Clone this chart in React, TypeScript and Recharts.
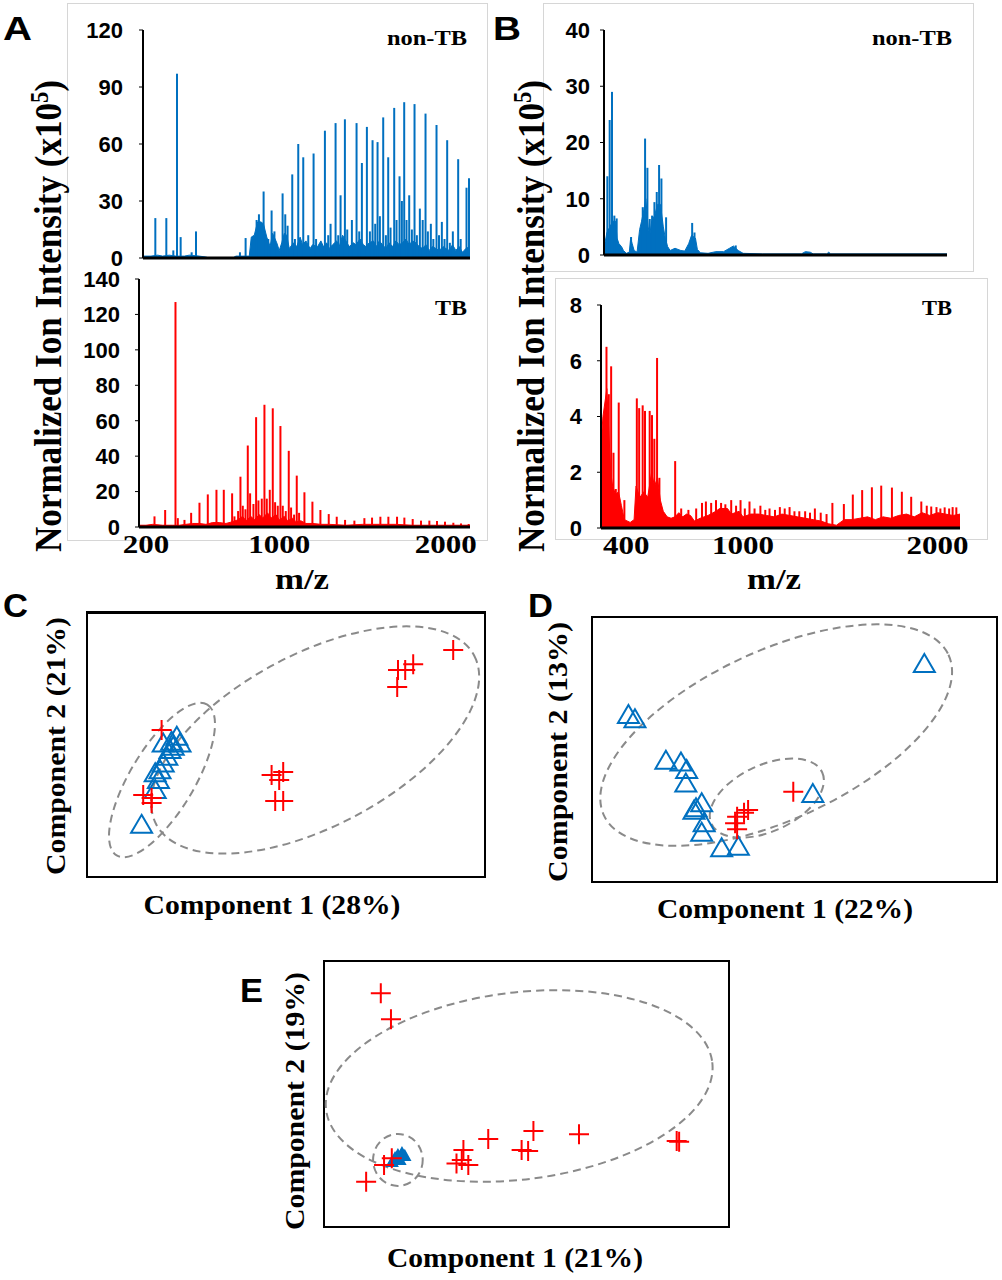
import React from "react";
import { Area, Bar, ComposedChart, ReferenceArea, Scatter, ScatterChart, XAxis, YAxis } from "recharts";

const BLUE = "#0070C0";
const RED = "#FF0000";
const GREY = "#8A8A8A";
const SERIF = "'Liberation Serif', 'Times New Roman', serif";
const SANS = "'Liberation Sans', Arial, sans-serif";

type Pt = [number, number];

// ---- panel A, m/z vs intensity (x10^5) ----
const aNonTbPeaks: Pt[] = [
  [257, 21], [323, 21], [365, 4], [387, 97], [409, 11], [475, 3], [501, 14], [765, 3], [799, 10.5],
  [865, 20], [879, 23], [907, 35], [935, 10], [955, 25], [972, 14], [1021, 34], [1037, 23], [1051, 17],
  [1079, 44], [1095, 10], [1115, 60], [1145, 53], [1175, 12], [1207, 55], [1222, 10], [1275, 67],
  [1295, 12], [1309, 18], [1339, 71], [1355, 12], [1369, 33], [1395, 73], [1409, 15], [1437, 20],
  [1465, 71], [1481, 14], [1497, 50], [1527, 69], [1545, 14], [1561, 62], [1577, 18], [1591, 61],
  [1605, 22], [1625, 74], [1641, 12], [1655, 53], [1669, 16], [1691, 79], [1705, 20], [1723, 43],
  [1737, 30], [1751, 82], [1765, 20], [1781, 33], [1797, 15], [1813, 81], [1827, 12], [1845, 26],
  [1862, 20], [1879, 76], [1893, 14], [1911, 18], [1926, 10], [1945, 70], [1960, 12], [1977, 19],
  [1993, 10], [2009, 62], [2025, 8], [2043, 14], [2075, 52], [2090, 10], [2125, 37], [2140, 42],
];
const aNonTbFloor: Pt[] = [
  [182, 1], [230, 1], [270, 1.5], [300, 1], [340, 1.5], [380, 1], [430, 1], [460, 1.5], [520, 1],
  [560, 0.5], [580, 0], [720, 0], [740, 1], [780, 1], [820, 1], [832, 11], [850, 12], [870, 19],
  [890, 19], [905, 18], [925, 11], [945, 6], [960, 13], [985, 8], [1000, 4], [1015, 8], [1030, 13],
  [1045, 12], [1060, 5], [1085, 8], [1105, 6], [1125, 11], [1140, 7], [1160, 9], [1185, 5], [1200, 7],
  [1230, 6], [1250, 9], [1265, 6], [1285, 8], [1300, 5], [1320, 7], [1345, 9], [1360, 6], [1380, 12],
  [1400, 9], [1420, 6], [1445, 8], [1460, 7], [1485, 10], [1505, 7], [1520, 6], [1540, 8], [1565, 9],
  [1585, 6], [1600, 9], [1620, 7], [1640, 5], [1660, 8], [1680, 6], [1700, 9], [1720, 7], [1740, 8],
  [1760, 10], [1780, 7], [1800, 9], [1820, 8], [1840, 6], [1860, 5], [1880, 7], [1900, 4], [1920, 6],
  [1940, 5], [1960, 4], [1985, 6], [2000, 5], [2020, 4], [2040, 7], [2060, 4], [2080, 6], [2100, 3],
  [2120, 5], [2145, 6],
];
const aTbPeaks: Pt[] = [
  [252, 6], [316, 9.6], [378, 127], [392, 5], [432, 4], [472, 8], [522, 13.7], [572, 18.4], [624, 21],
  [668, 21], [718, 19], [732, 6], [754, 9], [768, 28.4], [782, 12], [798, 10], [812, 46], [826, 19],
  [846, 13], [862, 62], [876, 15], [896, 16], [912, 69], [926, 16], [944, 21], [962, 67], [976, 14],
  [992, 12], [1008, 57], [1022, 12], [1040, 9], [1058, 43], [1072, 11], [1090, 7], [1106, 29],
  [1120, 8], [1152, 19.6], [1200, 14.3], [1248, 9.6], [1298, 7.3], [1346, 5.8], [1396, 4], [1452, 3.6],
  [1512, 5], [1558, 5.3], [1608, 5.8], [1656, 5.8], [1708, 5.8], [1752, 5.3], [1802, 4.5], [1852, 3.6],
  [1902, 3.6], [1948, 3.4], [1996, 3], [2046, 2.4], [2092, 2], [2138, 1.7],
];
const aTbFloor: Pt[] = [
  [158, 1], [200, 1], [240, 1.5], [300, 1], [360, 1], [400, 1], [440, 1.5], [480, 2], [520, 2],
  [560, 1.5], [600, 2.5], [640, 2.5], [680, 2], [720, 3], [750, 4], [780, 6], [800, 3.5], [830, 6],
  [850, 4], [880, 7], [900, 5], [930, 8], [950, 5], [980, 7], [1000, 4], [1030, 6], [1050, 3.5],
  [1080, 5], [1100, 3], [1130, 3.5], [1160, 2], [1200, 2], [1250, 1.5], [1300, 1.5], [1400, 1],
  [1500, 1.5], [1600, 1.5], [1700, 1.5], [1800, 1], [1900, 1], [2000, 1], [2145, 1],
];

// ---- panel B ----
const bNonTbPeaks: Pt[] = [
  [291, 2.3], [303, 14], [315, 24], [327, 29], [339, 7], [351, 6.5], [425, 3.2], [485, 8.5], [497, 20.7],
  [509, 15.5], [521, 6.4], [533, 7], [545, 9.4], [557, 11.2], [569, 16], [581, 13.6], [605, 6.7],
  [739, 5.7], [751, 4], [963, 1.7],
];
const bNonTbFloor: Pt[] = [
  [285, 1], [292, 2.5], [300, 4], [330, 6], [345, 6], [352, 3], [362, 2], [375, 1.5], [385, 0.8],
  [400, 0.3], [415, 0.5], [422, 3], [430, 2], [440, 0.8], [455, 0.5], [468, 4.5], [478, 6], [490, 8],
  [500, 10], [512, 5], [520, 3.5], [530, 6], [545, 7], [560, 9], [575, 9], [590, 5], [600, 3],
  [612, 1.5], [625, 0.8], [650, 1.2], [680, 0.8], [700, 0.7], [720, 2], [735, 3.5], [755, 3], [765, 1],
  [780, 0.4], [820, 0.3], [860, 0.6], [900, 0.6], [930, 1.2], [950, 1.6], [975, 0.8], [1000, 0.3],
  [1100, 0.2], [1300, 0.2], [1320, 0.6], [1345, 0.5], [1360, 0.2], [1430, 0.2], [1440, 0.5],
  [1450, 0.2], [2048, 0.2],
];
const bTbPeaks: Pt[] = [
  [287, 1.2], [299, 6.5], [311, 4.8], [323, 5.8], [335, 2.7], [347, 1.4], [362, 4.5], [391, 1],
  [455, 4.65], [467, 4.3], [485, 4.4], [497, 4.2], [521, 4.2], [533, 4.05], [545, 3.2], [559, 6.1],
  [571, 1.8], [652, 2.4], [683, 0.7], [720, 0.65], [760, 0.7], [790, 0.9], [810, 0.95], [837, 0.9],
  [862, 1], [888, 0.9], [910, 0.85], [940, 1], [965, 0.8], [988, 1], [1010, 0.7], [1034, 0.95],
  [1060, 0.7], [1090, 0.8], [1115, 0.65], [1137, 0.7], [1165, 0.65], [1190, 0.75], [1215, 0.7],
  [1240, 0.75], [1265, 0.6], [1290, 0.6], [1320, 0.6], [1345, 0.55], [1370, 0.7], [1400, 0.55],
  [1430, 0.5], [1460, 0.9], [1519, 0.86], [1565, 1.2], [1613, 1.36], [1663, 1.46], [1711, 1.52],
  [1766, 1.45], [1817, 1.3], [1865, 1.12], [1917, 0.95], [1945, 0.8], [1968, 0.77], [1995, 0.75],
  [2015, 0.7], [2037, 0.74], [2060, 0.7], [2078, 0.75], [2097, 0.74],
];
const bTbFloor: Pt[] = [
  [270, 3], [280, 4], [300, 5], [310, 3.5], [320, 2], [330, 1.5], [345, 1.2], [360, 1.3], [375, 0.8],
  [390, 0.3], [420, 0.2], [440, 0.3], [450, 1.5], [470, 1.1], [490, 1.3], [510, 1.1], [530, 2],
  [545, 1.5], [560, 1.8], [575, 1], [590, 0.6], [610, 0.4], [630, 0.35], [650, 0.4], [670, 0.55],
  [690, 0.4], [710, 0.5], [730, 0.45], [750, 0.25], [780, 0.35], [820, 0.45], [860, 0.6], [880, 0.7],
  [920, 0.7], [940, 0.5], [980, 0.6], [1000, 0.4], [1040, 0.5], [1080, 0.5], [1120, 0.45],
  [1160, 0.4], [1200, 0.5], [1240, 0.45], [1280, 0.4], [1320, 0.35], [1360, 0.3], [1400, 0.25],
  [1440, 0.15], [1480, 0.1], [1520, 0.3], [1560, 0.3], [1600, 0.35], [1640, 0.4], [1680, 0.3],
  [1720, 0.4], [1760, 0.35], [1800, 0.45], [1840, 0.5], [1880, 0.4], [1920, 0.55], [1960, 0.45],
  [2000, 0.55], [2040, 0.5], [2080, 0.45], [2115, 0.5],
];

// ---- PCA score plots (arbitrary units, 0-100 on both axes) ----
const cTriangles: Pt[] = [
  [13.9, 19.9], [17.3, 33.0], [18.1, 36.7], [17.3, 39.2], [18.5, 40.4], [19.3, 42.9], [20.2, 45.4],
  [21.0, 47.9], [21.8, 49.2], [23.5, 50.4], [22.7, 52.9], [19.3, 50.4], [21.4, 51.0],
];
const cPluses: Pt[] = [
  [91.8, 85.4], [81.8, 80.1], [79.8, 77.9], [78.0, 77.9], [77.8, 71.5], [46.4, 38.6], [49.3, 39.7],
  [48.3, 36.7], [47.3, 28.8], [49.3, 28.8], [18.9, 55.4], [14.3, 31.1], [16.4, 30.0], [16.4, 28.1],
];
const cEllipses = [
  { cx: 57.3, cy: 51.7, rx: 45, ry: 32.2, angle: 28 },
  { cx: 19, cy: 36.7, rx: 22, ry: 12, angle: 59 },
];

const dTriangles: Pt[] = [
  [81.9, 82.0], [9.2, 62.9], [10.8, 61.3], [18.4, 45.8], [22.1, 45.1], [23.5, 42.3], [23.3, 37.3],
  [25.8, 28.0], [27.2, 29.9], [25.3, 27.1], [27.2, 18.8], [27.8, 22.4], [32.1, 13.0], [36.2, 13.6],
  [54.5, 33.3],
];
const dPluses: Pt[] = [[49.7, 34.2], [38.6, 27.3], [37.6, 26.3], [35.9, 24.8], [35.4, 22.4], [35.9, 20.1]];
const dEllipses = [
  { cx: 45.5, cy: 55.4, rx: 46.7, ry: 31.5, angle: 25 },
  { cx: 43.2, cy: 31.8, rx: 15, ry: 12.4, angle: 25 },
];

const ePluses: Pt[] = [
  [14.2, 87.6], [16.7, 77.9], [10.6, 17.3], [15.0, 23.5], [16.9, 26.0], [32.8, 24.1], [34.5, 29.1],
  [34.1, 25.4], [35.7, 23.5], [40.6, 33.2], [48.8, 29.1], [50.4, 28.7], [51.7, 36.2], [62.9, 35.0],
  [86.9, 32.5], [87.5, 32.2],
];
const eBlob: Pt[] = [[17.7, 26.1], [18.4, 27.2], [19.4, 28.0], [20.1, 26.9], [18.9, 25.4], [17.0, 24.6]];
const eEllipses = [
  { cx: 48.2, cy: 53.0, rx: 47.8, ry: 34.9, angle: 7 },
  { cx: 18.4, cy: 25.4, rx: 6.1, ry: 9.7, angle: 0 },
];

const rows = (pts: Pt[]) => pts.map(([mz, v]) => ({ mz, v }));
const xy = (pts: Pt[]) => pts.map(([x, y]) => ({ x, y }));

const MzTick = (props: any) => {
  const { x, y, payload } = props;
  const s = String(payload.value);
  return (
    <text x={x} y={y + 26} textAnchor="middle" fontFamily={SERIF} fontWeight="bold" fontSize={25}
      textLength={s.length * 15.5} lengthAdjust="spacingAndGlyphs" fill="#000">{s}</text>
  );
};

function Spectrum({ plot, yWidth, tickGap, xDomain, yMax, yTicks, xTicks, color, peaks, floor }: any) {
  const [x0, y0, x1, y1] = plot;
  const mt = 12;
  const mr = 10;
  const axisH = xTicks ? 30 : 1;
  const mb = xTicks ? 0 : 12;
  const width = yWidth + (x1 - x0) + mr;
  const height = mt + (y1 - y0) + axisH + mb;
  return (
    <div style={{ position: "absolute", left: x0 - yWidth, top: y0 - mt }}>
      <ComposedChart width={width} height={height} data={rows(peaks)} margin={{ top: mt, right: mr, bottom: mb, left: 0 }}>
        <XAxis xAxisId="peaks" dataKey="mz" type="number" domain={xDomain} allowDataOverflow
          ticks={xTicks || []} interval={0} tick={xTicks ? <MzTick /> : false} tickLine={false}
          tickSize={0} tickMargin={0} height={axisH} axisLine={{ stroke: "#000", strokeWidth: 3 }} />
        <YAxis type="number" domain={[0, yMax]} allowDataOverflow ticks={yTicks} interval={0} width={yWidth}
          tickSize={4} tickMargin={tickGap} tickLine={{ stroke: "#000" }}
          axisLine={{ stroke: "#000", strokeWidth: 2 }}
          tick={{ fontFamily: SANS, fontWeight: "bold", fontSize: 22, fill: "#000" }} />
        <XAxis xAxisId="floor" dataKey="mz" type="number" domain={xDomain} allowDataOverflow hide height={0} />
        <Area xAxisId="floor" data={rows(floor)} dataKey="v" type="linear" stroke={color} strokeWidth={1}
          fill={color} fillOpacity={1} dot={false} activeDot={false} isAnimationActive={false} />
        <Bar xAxisId="peaks" dataKey="v" fill={color} barSize={2} isAnimationActive={false} />
      </ComposedChart>
    </div>
  );
}

const DashedEllipse = (p: any) => {
  const cx = p.x + p.width / 2;
  const cy = p.y + p.height / 2;
  return (
    <ellipse cx={cx} cy={cy} rx={Math.abs(p.width) / 2} ry={Math.abs(p.height) / 2}
      transform={`rotate(${-p.angle} ${cx} ${cy})`} fill="none" stroke={GREY} strokeWidth={2} strokeDasharray="8 5" />
  );
};

const plusShape = (p: any) => (
  <path d={`M${p.cx - 10},${p.cy}H${p.cx + 10}M${p.cx},${p.cy - 10}V${p.cy + 10}`} stroke={RED} strokeWidth={2} fill="none" />
);
const triShape = (p: any) => (
  <path d={`M${p.cx},${p.cy - 10}L${p.cx + 10.5},${p.cy + 8}L${p.cx - 10.5},${p.cy + 8}Z`} stroke={BLUE} strokeWidth={2} fill="none" />
);
const blobShape = (p: any) => (
  <path d={`M${p.cx},${p.cy - 5}L${p.cx + 5},${p.cy + 4}L${p.cx - 5},${p.cy + 4}Z`} stroke={BLUE} strokeWidth={2} fill={BLUE} />
);

function Pca({ frame, triangles, pluses, blob, ellipses, topWidth }: any) {
  const [x0, y0, x1, y1] = frame;
  const w = x1 - x0;
  const h = y1 - y0;
  return (
    <>
      <div style={{
        position: "absolute", left: x0, top: y0, width: w, height: h, boxSizing: "border-box",
        border: "2px solid #000", borderTopWidth: topWidth || 2,
      }} />
      <div style={{ position: "absolute", left: x0, top: y0 }}>
        <ScatterChart width={w} height={h} margin={{ top: 0, right: 0, bottom: 0, left: 0 }}>
          <XAxis type="number" dataKey="x" domain={[0, 100]} allowDataOverflow hide />
          <YAxis type="number" dataKey="y" domain={[0, 100]} allowDataOverflow hide />
          {ellipses.map((e: any, i: number) => (
            <ReferenceArea key={i} x1={e.cx - e.rx} x2={e.cx + e.rx} y1={e.cy - e.ry} y2={e.cy + e.ry}
              ifOverflow="visible" shape={(p: any) => <DashedEllipse {...p} angle={e.angle} />} />
          ))}
          {triangles && <Scatter data={xy(triangles)} shape={triShape} isAnimationActive={false} />}
          {blob && <Scatter data={xy(blob)} shape={blobShape} isAnimationActive={false} />}
          <Scatter data={xy(pluses)} shape={plusShape} isAnimationActive={false} />
        </ScatterChart>
      </div>
    </>
  );
}

const Box = ({ r }: { r: number[] }) => (
  <div style={{
    position: "absolute", left: r[0], top: r[1], width: r[2] - r[0], height: r[3] - r[1],
    border: "1px solid #d6d6d6", boxSizing: "border-box", background: "#fff",
  }} />
);

const bold = { fontWeight: "bold" as const, fill: "#000" };

export default function App() {
  return (
    <div style={{ position: "absolute", left: 0, top: 0, width: 1002, height: 1280, background: "#fff", overflow: "hidden" }}>
      <Box r={[67, 3, 488, 541]} />
      <Box r={[543, 3, 974, 272]} />
      <Box r={[555, 278, 988, 540]} />

      <Spectrum plot={[139, 279, 470, 527]} yWidth={60} tickGap={15} xDomain={[158, 2145]} yMax={140}
        yTicks={[0, 20, 40, 60, 80, 100, 120, 140]} xTicks={[200, 1000, 2000]} color={RED}
        peaks={aTbPeaks} floor={aTbFloor} />
      <Spectrum plot={[143, 30, 470, 258]} yWidth={60} tickGap={16} xDomain={[182, 2145]} yMax={120}
        yTicks={[0, 30, 60, 90, 120]} color={BLUE} peaks={aNonTbPeaks} floor={aNonTbFloor} />
      <Spectrum plot={[601, 305, 960, 528]} yWidth={50} tickGap={15} xDomain={[270, 2115]} yMax={8}
        yTicks={[0, 2, 4, 6, 8]} xTicks={[400, 1000, 2000]} color={RED} peaks={bTbPeaks} floor={bTbFloor} />
      <Spectrum plot={[604, 30, 947, 255]} yWidth={50} tickGap={10} xDomain={[285, 2048]} yMax={40}
        yTicks={[0, 10, 20, 30, 40]} color={BLUE} peaks={bNonTbPeaks} floor={bNonTbFloor} />

      <Pca frame={[86, 611, 486, 878]} triangles={cTriangles} pluses={cPluses} ellipses={cEllipses} topWidth={3} />
      <Pca frame={[591, 616, 998, 883]} triangles={dTriangles} pluses={dPluses} ellipses={dEllipses} />
      <Pca frame={[323, 960, 730, 1228]} blob={eBlob} pluses={ePluses} ellipses={eEllipses} />

      <svg width={1002} height={1280} style={{ position: "absolute", left: 0, top: 0, pointerEvents: "none" }}>
        <g fontFamily={SANS} fontSize={34} {...bold}>
          <text x={3} y={40} textLength={29} lengthAdjust="spacingAndGlyphs">A</text>
          <text x={493} y={40} textLength={28} lengthAdjust="spacingAndGlyphs">B</text>
          <text x={3} y={617} textLength={25} lengthAdjust="spacingAndGlyphs">C</text>
          <text x={528} y={617} textLength={25} lengthAdjust="spacingAndGlyphs">D</text>
          <text x={240} y={1002} textLength={23} lengthAdjust="spacingAndGlyphs">E</text>
        </g>
        <g fontFamily={SERIF} {...bold}>
          <text x={387} y={45} fontSize={20} textLength={80} lengthAdjust="spacingAndGlyphs">non-TB</text>
          <text x={435} y={315} fontSize={22} textLength={32} lengthAdjust="spacingAndGlyphs">TB</text>
          <text x={872} y={45} fontSize={20} textLength={80} lengthAdjust="spacingAndGlyphs">non-TB</text>
          <text x={922} y={315} fontSize={22} textLength={30} lengthAdjust="spacingAndGlyphs">TB</text>

          <text x={302} y={589} fontSize={30} textAnchor="middle" textLength={54} lengthAdjust="spacingAndGlyphs">m/z</text>
          <text x={774} y={589} fontSize={30} textAnchor="middle" textLength={54} lengthAdjust="spacingAndGlyphs">m/z</text>

          {[61, 544].map((bx) => (
            <text key={bx} transform={`translate(${bx},316) rotate(-90) scale(1,1.1)`} textAnchor="middle"
              fontSize={34} textLength={472} lengthAdjust="spacingAndGlyphs">
              Normalized Ion Intensity (x10<tspan dy={-12} fontSize={22}>5</tspan><tspan dy={12}>)</tspan>
            </text>
          ))}

          <text x={272} y={914} fontSize={28} textAnchor="middle" textLength={257} lengthAdjust="spacingAndGlyphs">Component 1 (28%)</text>
          <text x={785} y={918} fontSize={28} textAnchor="middle" textLength={256} lengthAdjust="spacingAndGlyphs">Component 1 (22%)</text>
          <text x={515} y={1267} fontSize={28} textAnchor="middle" textLength={256} lengthAdjust="spacingAndGlyphs">Component 1 (21%)</text>

          <text transform="translate(65,746) rotate(-90)" textAnchor="middle" fontSize={28} textLength={258} lengthAdjust="spacingAndGlyphs">Component 2 (21%)</text>
          <text transform="translate(567,752) rotate(-90)" textAnchor="middle" fontSize={28} textLength={260} lengthAdjust="spacingAndGlyphs">Component 2 (13%)</text>
          <text transform="translate(304,1101) rotate(-90)" textAnchor="middle" fontSize={28} textLength={258} lengthAdjust="spacingAndGlyphs">Component 2 (19%)</text>
        </g>
      </svg>
    </div>
  );
}
